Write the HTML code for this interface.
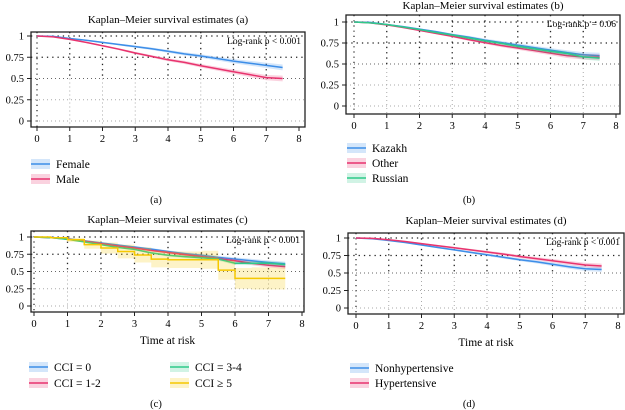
<!DOCTYPE html>
<html><head><meta charset="utf-8"><style>
html,body{margin:0;padding:0;background:#fff;}
svg{display:block;font-family:"Liberation Serif",serif;}
</style></head><body>
<svg id="fig" width="625" height="410" viewBox="0 0 625 410" xmlns="http://www.w3.org/2000/svg"></svg>
<script>
const times=[0,0.5,1,1.5,2,2.5,3,3.5,4,4.5,5,5.5,6,6.5,7,7.5];
const xTicks=[0,1,2,3,4,5,6,7,8];
const yTicks=[0,0.25,0.5,0.75,1];
const yTickLabels=["0","0.25","0.5","0.75","1"];
const aFemale=[1,0.995,0.97,0.95,0.925,0.9,0.875,0.85,0.82,0.79,0.765,0.735,0.705,0.68,0.655,0.63];
const aMale=[1,0.99,0.96,0.925,0.885,0.845,0.8,0.76,0.72,0.69,0.65,0.615,0.58,0.545,0.51,0.5];
const bKazakh=[1,0.995,0.97,0.945,0.915,0.885,0.85,0.82,0.785,0.755,0.725,0.695,0.665,0.635,0.61,0.6];
const bOther=[1,0.99,0.965,0.935,0.9,0.865,0.83,0.79,0.755,0.72,0.69,0.66,0.63,0.6,0.585,0.58];
const bRussian=[1,0.99,0.97,0.94,0.91,0.875,0.845,0.81,0.775,0.745,0.71,0.68,0.65,0.625,0.585,0.57];
const cCci0=[1,0.995,0.975,0.945,0.915,0.885,0.855,0.825,0.79,0.76,0.735,0.705,0.68,0.655,0.63,0.61];
const cCci12=[1,0.99,0.97,0.94,0.905,0.87,0.84,0.805,0.775,0.745,0.715,0.685,0.655,0.62,0.59,0.57];
const cCci34=[1,0.99,0.965,0.93,0.89,0.85,0.82,0.77,0.735,0.715,0.7,0.68,0.62,0.62,0.62,0.6];
const cCci5=[1,0.99,0.96,0.89,0.84,0.79,0.74,0.68,0.67,0.67,0.67,0.52,0.4,0.4,0.4,0.4];
const dNonhyp=[1,0.99,0.965,0.935,0.9,0.865,0.83,0.795,0.76,0.725,0.69,0.66,0.625,0.59,0.56,0.55];
const dHyp=[1,0.995,0.975,0.95,0.92,0.89,0.86,0.83,0.8,0.77,0.735,0.705,0.675,0.645,0.615,0.6];
const ciNarrow=[0,0.002,0.005,0.007,0.009,0.011,0.013,0.015,0.017,0.019,0.021,0.023,0.025,0.028,0.031,0.034];
const ciWide=[0,0.01,0.03,0.06,0.08,0.1,0.11,0.12,0.12,0.12,0.13,0.14,0.15,0.16,0.16,0.16];

const C={blue:"#3d8ee8",pink:"#e8336e",green:"#2ec98a",yellow:"#f5c800"};
const NS="http://www.w3.org/2000/svg";
const svg=document.getElementById("fig");
function el(tag,attrs,parent){const e=document.createElementNS(NS,tag);for(const k in attrs)e.setAttribute(k,attrs[k]);(parent||svg).appendChild(e);return e;}
function txt(s,attrs,parent){const t=el("text",attrs,parent);t.textContent=s;return t;}

function panel(p){
  const g=el("g",{});
  
  
  const X=v=>p.x0+(p.x8-p.x0)*v/8;
  const Y=v=>p.y0+(p.y1-p.y0)*v;
  const t=txt("Kaplan–Meier survival estimates ("+p.id+")",{x:(p.bl+p.br)/2,y:p.ty,"text-anchor":"middle","font-size":"11"},g);
  
  
  yTicks.forEach(v=>{
    const dark=v>=0.75, mid=v==0.5;
    const l=el("line",{x1:p.bl,x2:p.br,y1:Y(v),y2:Y(v),stroke:dark?"#222":(mid?"#666":"#aaa"),"stroke-width":dark?1.3:1,"stroke-dasharray":dark?"1.3,4":"1,3"},g);
    
    
  });
  xTicks.forEach(v=>{
    if(v==0||v==8)return;
    const l1=el("line",{x1:X(v),x2:X(v),y1:p.bt,y2:Y(0.5),stroke:"#222","stroke-width":1.3,"stroke-dasharray":"1.3,4"},g);
    
    
    const l2=el("line",{x1:X(v),x2:X(v),y1:Y(0.5),y2:p.bb,stroke:"#aaa","stroke-width":1,"stroke-dasharray":"1,3"},g);
    
    
  });
  const l0=el("line",{x1:X(0),x2:X(0),y1:p.bt,y2:p.bb,stroke:"#222","stroke-width":1.2,"stroke-dasharray":"1.2,4"},g);
  
  
  p.series.forEach(s=>{
    const ci=s.ci;
    let up="",lo=[],d="";
    times.forEach((tm,i)=>{
      const xa=X(tm), v=s.v[i];
      const hi=Math.min(1,v+ci[i]), lw=v-ci[i];
      if(s.step){
        const xb=X(i<times.length-1?times[i+1]:tm);
        d+=(i==0?"M":"L")+xa+","+Y(v)+"L"+xb+","+Y(v);
        up+=(i==0?"M":"L")+xa+","+Y(hi)+"L"+xb+","+Y(hi);
        lo.unshift("L"+xb+","+Y(lw)+"L"+xa+","+Y(lw));
      }else{
        d+=(i==0?"M":"L")+xa+","+Y(v);
        up+=(i==0?"M":"L")+xa+","+Y(hi);
        lo.unshift("L"+xa+","+Y(lw));
      }
    });
    const band=el("path",{d:up+lo.join("")+"Z",fill:s.c,"fill-opacity":0.22,stroke:"none"},g);
    
    
    const ln=el("path",{d:d,fill:"none",stroke:s.c,"stroke-width":1.5},g);
    
    
  });
  const box=el("rect",{x:p.bl,y:p.bt,width:p.br-p.bl,height:p.bb-p.bt,fill:"none",stroke:"#222","stroke-width":1.3},g);
  
  
  yTicks.forEach((v,i)=>{
    el("line",{x1:p.bl-4,x2:p.bl,y1:Y(v),y2:Y(v),stroke:"#222"},g);
    const tl=txt(yTickLabels[i],{x:p.bl-7,y:Y(v)+3.5,"text-anchor":"end","font-size":"10.5"},g);
    
    
  });
  xTicks.forEach(v=>{
    el("line",{x1:X(v),x2:X(v),y1:p.bb,y2:p.bb+4,stroke:"#222"},g);
    const tl=txt(String(v),{x:X(v),y:p.bb+15,"text-anchor":"middle","font-size":"10.5"},g);
    
    
  });
  const pv=txt(p.pval,{x:p.br-4,y:p.bt+12,"text-anchor":"end","font-size":"9.5"},g);
  
  
  if(p.xlab){
    const xl=txt("Time at risk",{x:(p.bl+p.br)/2,y:p.bb+32,"text-anchor":"middle","font-size":"11.5"},g);
    
    
  }
  p.legend.forEach(L=>{
    const lg=el("g",{},g);
    
    
    el("rect",{x:L.x,y:L.y-5,width:19,height:10,fill:L.c,"fill-opacity":0.22},lg);
    el("line",{x1:L.x,x2:L.x+19,y1:L.y,y2:L.y,stroke:L.c,"stroke-width":1.5},lg);
    txt(L.t,{x:L.x+25,y:L.y+4,"font-size":"11.5"},lg);
  });
  const cap=txt("("+p.id+")",{x:p.capx,y:p.capy,"text-anchor":"middle","font-size":"10.5"},g);
  
  
}

panel({id:"a",bl:31,bt:32,br:305,bb:127,x0:37,x8:299,y1:36,y0:121,ty:23,pval:"Log-rank p < 0.001",capx:156,capy:203,
  series:[{key:"female",v:aFemale,c:C.blue,ci:ciNarrow},{key:"male",v:aMale,c:C.pink,ci:ciNarrow}],
  legend:[{x:31,y:164,c:C.blue,t:"Female"},{x:31,y:179,c:C.pink,t:"Male"}]});
panel({id:"b",bl:346,bt:15,br:620,bb:114,x0:354,x8:616,y1:22,y0:106,ty:9,pval:"Log-rank p = 0.06",capx:469,capy:203,
  series:[{key:"kazakh",v:bKazakh,c:C.blue,ci:ciNarrow},{key:"other",v:bOther,c:C.pink,ci:ciNarrow},{key:"russian",v:bRussian,c:C.green,ci:ciNarrow}],
  legend:[{x:347,y:148,c:C.blue,t:"Kazakh"},{x:347,y:163,c:C.pink,t:"Other"},{x:347,y:178,c:C.green,t:"Russian"}]});
panel({id:"c",bl:31,bt:231,br:304,bb:312,x0:34,x8:302,y1:237,y0:306,ty:223,xlab:true,pval:"Log-rank p < 0.001",capx:156,capy:407,
  series:[{key:"cci0",v:cCci0,c:C.blue,ci:ciNarrow},{key:"cci12",v:cCci12,c:C.pink,ci:ciNarrow},{key:"cci34",v:cCci34,c:C.green,ci:ciNarrow},{key:"cci5",v:cCci5,c:C.yellow,ci:ciWide,step:true}],
  legend:[{x:29,y:367,c:C.blue,t:"CCI = 0"},{x:29,y:383,c:C.pink,t:"CCI = 1-2"},{x:170,y:367,c:C.green,t:"CCI = 3-4"},{x:170,y:383,c:C.yellow,t:"CCI ≥ 5"}]});
panel({id:"d",bl:348,bt:233,br:624,bb:314,x0:356,x8:618,y1:238,y0:308,ty:224,xlab:true,pval:"Log-rank p < 0.001",capx:469,capy:407,
  series:[{key:"nonhypertensive",v:dNonhyp,c:C.blue,ci:ciNarrow},{key:"hypertensive",v:dHyp,c:C.pink,ci:ciNarrow}],
  legend:[{x:350,y:368,c:C.blue,t:"Nonhypertensive"},{x:350,y:383,c:C.pink,t:"Hypertensive"}]});
</script>
</body></html>
